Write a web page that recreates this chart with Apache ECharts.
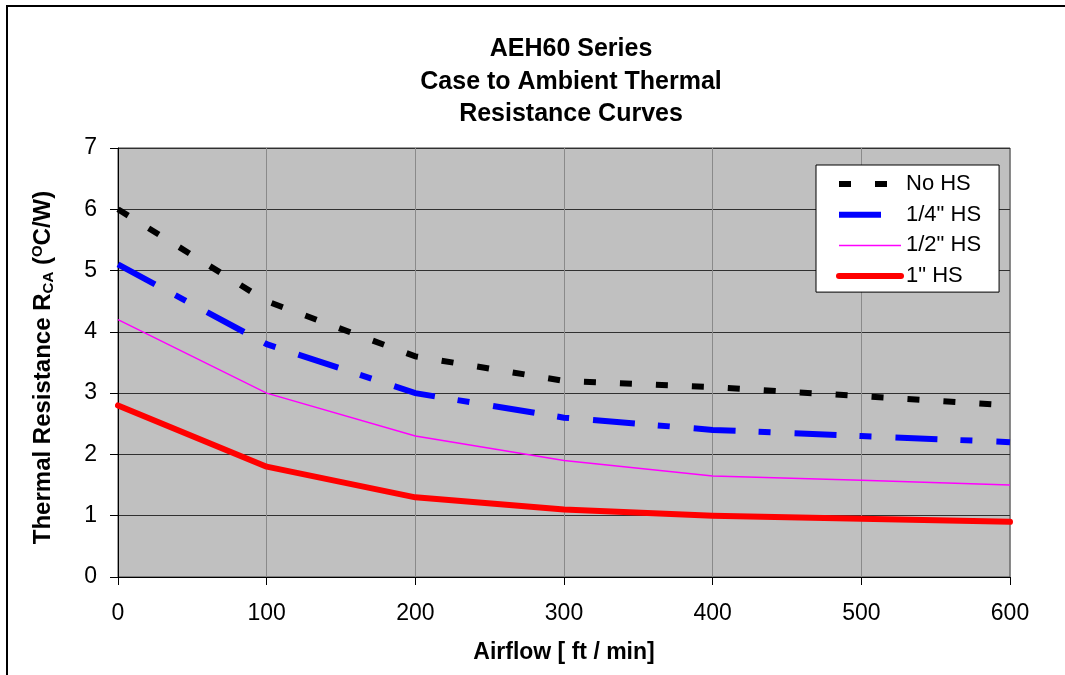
<!DOCTYPE html>
<html>
<head>
<meta charset="utf-8">
<script src="https://cdn.jsdelivr.net/npm/echarts@6/dist/echarts.min.js"></script>
<style>html,body{margin:0;padding:0;background:#fff;}#c{width:1065px;height:675px;}</style>
</head>
<body>
<div id="c"></div>
<script>
const airflow = [0, 100, 200, 300, 400, 500, 600];
const noHS = [6.0, 4.5, 3.6, 3.2, 3.1, 2.95, 2.8];
const quarterHS = [5.1, 3.8, 3.0, 2.6, 2.4, 2.3, 2.2];
const halfHS = [4.2, 3.0, 2.3, 1.9, 1.65, 1.58, 1.5];
const oneHS = [2.8, 1.8, 1.3, 1.1, 1.0, 0.95, 0.9];
const seriesNames = ['No HS', '1/4" HS', '1/2" HS', '1" HS'];

const pairs = vals => airflow.map((x, i) => [x, vals[i]]);
const FONT = '"Liberation Sans", Arial, sans-serif';

const styles = [
  {color: '#000000', width: 6, type: [12, 24], cap: 'butt'},
  {color: '#0000FF', width: 6, type: [42, 23, 12, 24], cap: 'butt'},
  {color: '#FF00FF', width: 1.5, type: 'solid', cap: 'butt'},
  {color: '#FF0000', width: 6, type: 'solid', cap: 'round'}
];

const chart = echarts.init(document.getElementById('c'), null, {renderer: 'canvas'});
chart.setOption({
  animation: false,
  backgroundColor: '#fff',
  textStyle: {fontFamily: FONT, color: '#000'},
  graphic: [{
    type: 'rect', shape: {x: 7, y: 6, width: 1200, height: 800},
    style: {fill: 'none', stroke: '#000', lineWidth: 2}, z: 100, silent: true
  }],
  title: {
    text: 'AEH60 Series\nCase to Ambient Thermal\nResistance Curves',
    left: 566, top: 28, textAlign: 'center',
    textStyle: {fontFamily: FONT, fontSize: 25, fontWeight: 'bold', lineHeight: 32.5, color: '#000'}
  },
  grid: {
    left: 118, right: 55, top: 148, bottom: 98,
    show: true, backgroundColor: '#C0C0C0', borderColor: '#404040', borderWidth: 1
  },
  legend: {
    data: seriesNames.map((n, i) => ({
      name: n,
      itemStyle: {opacity: 0},
      lineStyle: {color: styles[i].color, width: styles[i].width, type: styles[i].type, cap: styles[i].cap}
    })),
    orient: 'vertical', left: 816, top: 165,
    backgroundColor: '#fff', borderColor: '#000', borderWidth: 1,
    padding: [8, 18, 5, 20], itemWidth: 62, itemHeight: 10, itemGap: 8.7,
    textStyle: {fontFamily: FONT, fontSize: 22, lineHeight: 22, color: '#000'}
  },
  xAxis: {
    type: 'value', min: 0, max: 600, interval: 100,
    name: 'Airflow [ ft / min]', nameLocation: 'middle', nameGap: 62,
    nameTextStyle: {fontFamily: FONT, fontSize: 23, fontWeight: 'bold', color: '#000', lineHeight: 27},
    axisLine: {show: true, lineStyle: {color: '#000', width: 1}},
    axisTick: {show: true, inside: false, length: 8, lineStyle: {color: '#000'}},
    axisLabel: {fontFamily: FONT, fontSize: 23, color: '#000', margin: 25},
    splitLine: {show: true, lineStyle: {color: '#8a8a8a', width: 1}}
  },
  yAxis: {
    type: 'value', min: 0, max: 7, interval: 1,
    name: '{b|Thermal Resistance R}{sub|CA}{b| (}{sup|O}{b|C/W)}',
    nameLocation: 'middle', nameGap: 62, nameRotate: 90,
    nameTextStyle: {
      fontFamily: FONT, fontSize: 24, fontWeight: 'bold', color: '#000',
      padding: [0, 10, 0, 0],
      rich: {
        b: {fontFamily: FONT, fontSize: 24, fontWeight: 'bold', lineHeight: 26, color: '#000'},
        sub: {fontFamily: FONT, fontSize: 15, fontWeight: 'bold', lineHeight: 15, verticalAlign: 'bottom', color: '#000'},
        sup: {fontFamily: FONT, fontSize: 15, fontWeight: 'bold', lineHeight: 15, verticalAlign: 'top', color: '#000'}
      }
    },
    axisLine: {show: true, lineStyle: {color: '#000', width: 1}},
    axisTick: {show: true, inside: false, length: 8, lineStyle: {color: '#000'}},
    axisLabel: {fontFamily: FONT, fontSize: 23, color: '#000', margin: 21},
    splitLine: {show: true, lineStyle: {color: '#303030', width: 1}}
  },
  series: seriesNames.map((n, i) => ({
    name: n, type: 'line',
    data: pairs([noHS, quarterHS, halfHS, oneHS][i]),
    symbol: 'none', showSymbol: false,
    lineStyle: {color: styles[i].color, width: styles[i].width, type: styles[i].type, cap: styles[i].cap, join: i === 3 ? 'round' : 'miter'},
    itemStyle: {color: styles[i].color},
    z: [4, 3, 2, 5][i]
  }))
});
</script>
</body>
</html>
